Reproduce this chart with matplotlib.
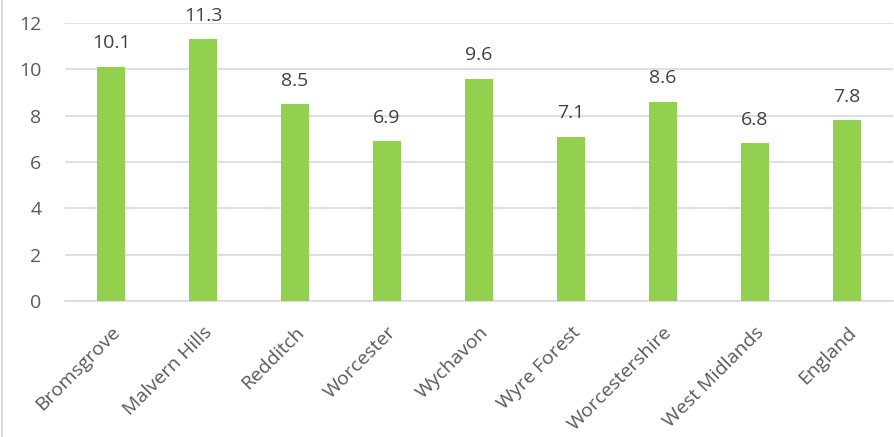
import matplotlib.pyplot as plt
import matplotlib.transforms as mtransforms
from matplotlib.lines import Line2D

areas = ['Bromsgrove', 'Malvern Hills', 'Redditch', 'Worcester', 'Wychavon',
         'Wyre Forest', 'Worcestershire', 'West Midlands', 'England']
values = [10.1, 11.3, 8.5, 6.9, 9.6, 7.1, 8.6, 6.8, 7.8]
yticks = [0, 2, 4, 6, 8, 10, 12]

plt.rcParams['font.family'] = ['Open Sans', 'DejaVu Sans']

fig = plt.figure(figsize=(8.94, 4.37), dpi=100)
ax = fig.add_axes([65 / 894, 136 / 437, 828 / 894, 278 / 437])

x = range(len(areas))
ax.bar(x, values, width=0.31, color='#92D050', zorder=3)

for i, v in zip(x, values):
    ax.annotate(f'{v:.1f}', (i, v), xytext=(0, 10.5), textcoords='offset points',
                ha='center', va='bottom', fontsize=14, color='#404040')

ax.set_xlim(-0.5, len(areas) - 0.5)
ax.set_ylim(0, 12)
ax.set_yticks(yticks)
ax.set_yticklabels([str(t) for t in yticks], fontsize=14, color='#595959')
ax.set_xticks(list(x))
ax.set_xticklabels(areas, rotation=45, ha='right', rotation_mode='anchor',
                   fontsize=14, color='#595959')
# nudge labels a little right, like the original
shift = mtransforms.ScaledTranslation(6 / 100, 0, fig.dpi_scale_trans)
for lab in ax.get_xticklabels():
    lab.set_transform(lab.get_transform() + shift)
ax.tick_params(axis='both', length=0)
ax.tick_params(axis='x', pad=16)
ax.tick_params(axis='y', pad=17)
ax.grid(axis='y', color='#D9D9D9', linewidth=1.2, zorder=0)
for s in ['top', 'right', 'left']:
    ax.spines[s].set_visible(False)
ax.spines['bottom'].set_color('#D9D9D9')
ax.spines['bottom'].set_linewidth(1.2)

fig.add_artist(Line2D([0.002, 0.002], [0, 1], transform=fig.transFigure,
                      color='#D9D9D9', linewidth=1.5))

fig.savefig('out.png', dpi=100)
